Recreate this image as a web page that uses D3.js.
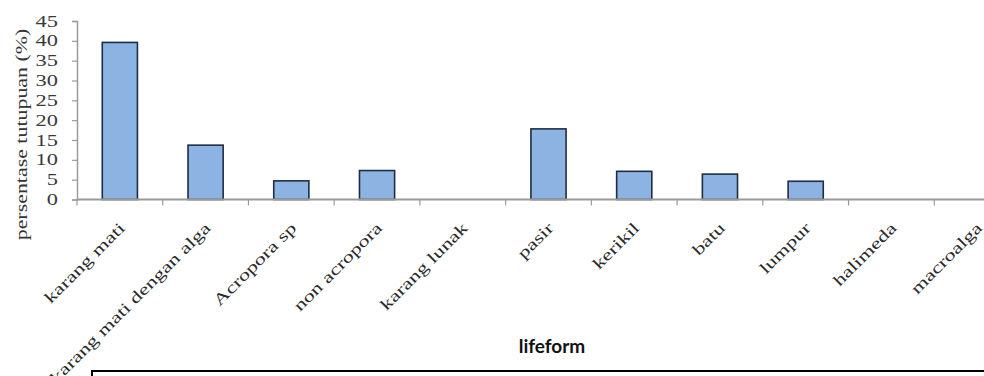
<!DOCTYPE html>
<html>
<head>
<meta charset="utf-8">
<script src="https://cdn.jsdelivr.net/npm/d3@7"></script>
<style>
  html, body { margin: 0; padding: 0; background: #fff; }
  svg { display: block; }
</style>
</head>
<body>
<svg id="chart" width="984" height="376"></svg>
<script>
// Lifeform cover data
const categories = ["karang mati", "karang mati dengan alga", "Acropora sp", "non acropora",
  "karang lunak", "pasir", "kerikil", "batu", "lumpur", "halimeda", "macroalga"];
const cover = [39.6, 13.7, 4.7, 7.3, 0, 17.8, 7.1, 6.4, 4.6, 0, 0];
const yTicks = [0, 5, 10, 15, 20, 25, 30, 35, 40, 45];
const yTitle = "persentase tutupuan (%)";
const xTitle = "lifeform";

const svg = d3.select("#chart");
const serif = "'Liberation Serif', 'DejaVu Serif', serif";
const stretch = 1.4; // wide lettering along the baseline

const plot = { left: 77, right: 1020, top: 21, bottom: 199.5 };

const x = d3.scaleBand()
  .domain(categories)
  .range([plot.left, plot.right])
  .paddingInner(0.59)
  .paddingOuter(0.295);

const y = d3.scaleLinear()
  .domain([0, 45])
  .range([plot.bottom, plot.top]);

const axisColor = "#9a9a9a";

// Bars
svg.append("g")
  .selectAll("rect")
  .data(categories.map((c, i) => ({ c, v: cover[i] })).filter(d => d.v > 0))
  .join("rect")
  .attr("x", d => x(d.c))
  .attr("y", d => y(d.v))
  .attr("width", x.bandwidth())
  .attr("height", d => y(0) - y(d.v))
  .attr("fill", "#8db3e2")
  .attr("stroke", "#1f2d44")
  .attr("stroke-width", 1.6);

// Y axis
const yAxis = svg.append("g")
  .attr("transform", `translate(${plot.left},0)`)
  .call(d3.axisLeft(y).tickValues(yTicks).tickSize(5).tickFormat(""));
yAxis.select(".domain").attr("stroke", axisColor).attr("stroke-width", 1.5);
yAxis.selectAll(".tick line").attr("stroke", axisColor).attr("stroke-width", 1.2);

svg.append("g")
  .selectAll("text")
  .data(yTicks)
  .join("text")
  .attr("transform", d => `translate(58,${y(d)}) scale(${stretch},1)`)
  .attr("dy", "0.35em")
  .attr("text-anchor", "end")
  .attr("font-family", serif)
  .attr("font-size", 16)
  .attr("fill", "#3a3a3a")
  .text(d => d);

// X axis with tick marks on the category boundaries
const step = x.step();
const boundaries = categories.map(c => x(c) + x.bandwidth() / 2 - step / 2)
  .concat([x(categories[categories.length - 1]) + x.bandwidth() / 2 + step / 2]);
const xg = svg.append("g");
xg.append("line")
  .attr("x1", plot.left).attr("x2", plot.right)
  .attr("y1", y(0)).attr("y2", y(0))
  .attr("stroke", axisColor).attr("stroke-width", 2);
xg.selectAll("line.tick")
  .data(boundaries)
  .join("line")
  .attr("class", "tick")
  .attr("x1", d => d).attr("x2", d => d)
  .attr("y1", y(0)).attr("y2", y(0) + 6)
  .attr("stroke", axisColor).attr("stroke-width", 1.2);

// Category labels, rotated
svg.append("g")
  .selectAll("text")
  .data(categories)
  .join("text")
  .attr("transform", d => `translate(${x(d) + x.bandwidth() / 2 + 6},229) rotate(-45) scale(${stretch},1)`)
  .attr("text-anchor", "end")
  .attr("font-family", serif)
  .attr("font-size", 16)
  .attr("fill", "#2a2a2a")
  .text(d => d);

// Axis titles
svg.append("text")
  .attr("transform", `translate(27,134.5) rotate(-90) scale(1.37,1)`)
  .attr("text-anchor", "middle")
  .attr("font-family", serif)
  .attr("font-size", 16)
  .attr("fill", "#333")
  .text(yTitle);

svg.append("text")
  .attr("x", 552)
  .attr("y", 353)
  .attr("text-anchor", "middle")
  .attr("font-family", "Lato, 'Open Sans', sans-serif")
  .attr("font-weight", "bold")
  .attr("font-size", 19)
  .attr("fill", "#111")
  .text(xTitle);

// Frame of the table below the chart
svg.append("rect")
  .attr("x", 92)
  .attr("y", 371)
  .attr("width", 920)
  .attr("height", 40)
  .attr("fill", "none")
  .attr("stroke", "#000")
  .attr("stroke-width", 2);
</script>
</body>
</html>
